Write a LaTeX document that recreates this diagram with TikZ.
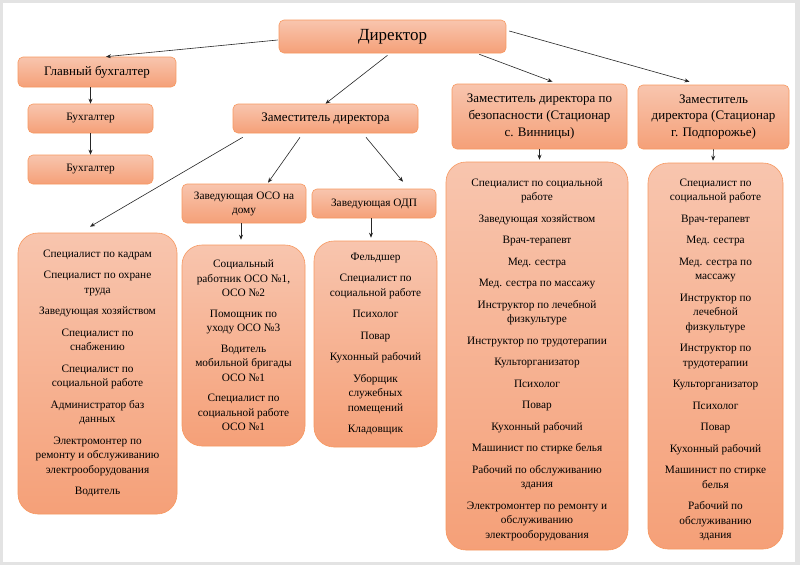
\documentclass[tikz,border=0pt]{standalone}
\usepackage{fontspec}
\setmainfont{Liberation Serif}
\usetikzlibrary{arrows.meta,calc}
\definecolor{ctop}{RGB}{248,197,174}
\definecolor{cbot}{RGB}{245,160,120}
\definecolor{cedge}{RGB}{247,152,96}
\begin{document}
\begin{tikzpicture}[x=1pt,y=-1pt,
  box/.style={draw=cedge, line width=0.6pt, rounded corners=5pt, top color=ctop, bottom color=cbot, inner sep=0pt, align=center, text=black},
  big/.style={box, rounded corners=20pt, font=\fontsize{11.3}{14.5}\selectfont},
  arr/.style={-{Stealth[length=5pt,width=4pt]}, line width=0.6pt, black!85}]
\fill[gray!22] (0,0) rectangle (800,565);
\fill[white] (2.5,2.5) rectangle (795,562);
\useasboundingbox (0,0) rectangle (800,565);

\node[box, minimum width=227pt, minimum height=33pt, font=\fontsize{17}{20}\selectfont] (dir) at (392.5,36.5) {Директор};
\node[box, minimum width=158pt, minimum height=30pt, font=\fontsize{13}{16}\selectfont] (gb) at (97,72) {Главный бухгалтер};
\node[box, minimum width=125pt, minimum height=29pt, font=\fontsize{11.3}{14}\selectfont] (b1) at (90.5,118.5) {Бухгалтер};
\node[box, minimum width=125pt, minimum height=29pt, font=\fontsize{11.3}{14}\selectfont] (b2) at (90.5,169.5) {Бухгалтер};
\node[box, minimum width=185pt, minimum height=29pt, font=\fontsize{13}{16}\selectfont] (zam) at (325.5,118.5) {Заместитель директора};
\node[box, minimum width=175pt, minimum height=65pt, font=\fontsize{13}{16.6}\selectfont] (zb) at (539.5,116.5) {Заместитель директора по\\безопасности (Стационар\\с. Винницы)};
\node[box, minimum width=151pt, minimum height=64pt, font=\fontsize{13}{16.6}\selectfont] (zp) at (713.5,117) {Заместитель\\директора (Стационар\\г. Подпорожье)};
\node[box, minimum width=124pt, minimum height=39pt, font=\fontsize{11.3}{14}\selectfont] (oso) at (244,203.5) {Заведующая ОСО на\\дому};
\node[box, minimum width=124pt, minimum height=29pt, font=\fontsize{11.3}{14}\selectfont] (odp) at (374,203.5) {Заведующая ОДП};

\node[big, minimum width=159pt, minimum height=281pt] (lb) at (97.5,373.5) {Специалист по кадрам\\[7pt]
Специалист по охране\\труда\\[7pt]
Заведующая хозяйством\\[7pt]
Специалист по\\снабжению\\[7pt]
Специалист по\\социальной работе\\[7pt]
Администратор баз\\данных\\[7pt]
Электромонтер по\\ремонту и обслуживанию\\электрооборудования\\[7pt]
Водитель};

\node[big, minimum width=123pt, minimum height=201pt] (osol) at (243.5,345.5) {Социальный\\работник ОСО №1,\\ОСО №2\\[6pt]
Помощник по\\уходу ОСО №3\\[6pt]
Водитель\\мобильной бригады\\ОСО №1\\[6pt]
Специалист по\\социальной работе\\ОСО №1};

\node[big, minimum width=123pt, minimum height=206pt] (odpl) at (375.5,344) {Фельдшер\\[7pt]
Специалист по\\социальной работе\\[7pt]
Психолог\\[7pt]
Повар\\[7pt]
Кухонный рабочий\\[7pt]
Уборщик\\служебных\\помещений\\[7pt]
Кладовщик};

\node[big, minimum width=182pt, minimum height=388pt] (l1) at (537,356) {\rule{0pt}{15pt}Специалист по социальной\\работе\\[7pt]
Заведующая хозяйством\\[7pt]
Врач-терапевт\\[7pt]
Мед. сестра\\[7pt]
Мед. сестра по массажу\\[7pt]
Инструктор по лечебной\\физкультуре\\[7pt]
Инструктор по трудотерапии\\[7pt]
Культорганизатор\\[7pt]
Психолог\\[7pt]
Повар\\[7pt]
Кухонный рабочий\\[7pt]
Машинист по стирке белья\\[7pt]
Рабочий по обслуживанию\\здания\\[7pt]
Электромонтер по ремонту и\\обслуживанию\\электрооборудования};

\node[big, minimum width=135pt, minimum height=386pt] (l2) at (715.5,356) {\rule{0pt}{15pt}Специалист по\\социальной работе\\[7pt]
Врач-терапевт\\[7pt]
Мед. сестра\\[7pt]
Мед. сестра по\\массажу\\[7pt]
Инструктор по\\лечебной\\физкультуре\\[7pt]
Инструктор по\\трудотерапии\\[7pt]
Культорганизатор\\[7pt]
Психолог\\[7pt]
Повар\\[7pt]
Кухонный рабочий\\[7pt]
Машинист по стирке\\белья\\[7pt]
Рабочий по\\обслуживанию\\здания};

% connectors
\draw[arr] ([xshift=-1pt,yshift=-3.5pt]dir.west) -- ([xshift=9pt]gb.north);
\draw[arr] ([xshift=-5pt,yshift=-2pt]dir.south) -- (zam.north);
\draw[arr] ([xshift=-27pt,yshift=-1pt]dir.south east) -- ([xshift=13pt,yshift=2pt]zb.north);
\draw[arr] ([xshift=3pt,yshift=5.5pt]dir.east) -- ([xshift=-24pt,yshift=3pt]zp.north);
\draw[arr] (gb.south -| b1.north) -- (b1.north);
\draw[arr] (b1.south) -- (b2.north);
\draw[arr] ([xshift=10pt,yshift=-4pt]zam.south west) -- ([xshift=-7.5pt,yshift=6pt]lb.north);
\draw[arr] ([xshift=-25.5pt,yshift=-4pt]zam.south) -- ([xshift=24pt,yshift=1pt]oso.north);
\draw[arr] ([xshift=40.5pt,yshift=-4pt]zam.south) -- ([xshift=29pt,yshift=7pt]odp.north);
\draw[arr] ([xshift=-3pt]oso.south) -- ([xshift=-2.5pt,yshift=5pt]osol.north);
\draw[arr] ([xshift=-3pt]odp.south) -- ([xshift=-4.5pt,yshift=3pt]odpl.north);
\draw[arr] (zb.south) -- ([xshift=2.5pt,yshift=2pt]l1.north);
\draw[arr] (zp.south) -- ([xshift=-2.5pt,yshift=2pt]l2.north);
\end{tikzpicture}
\end{document}
